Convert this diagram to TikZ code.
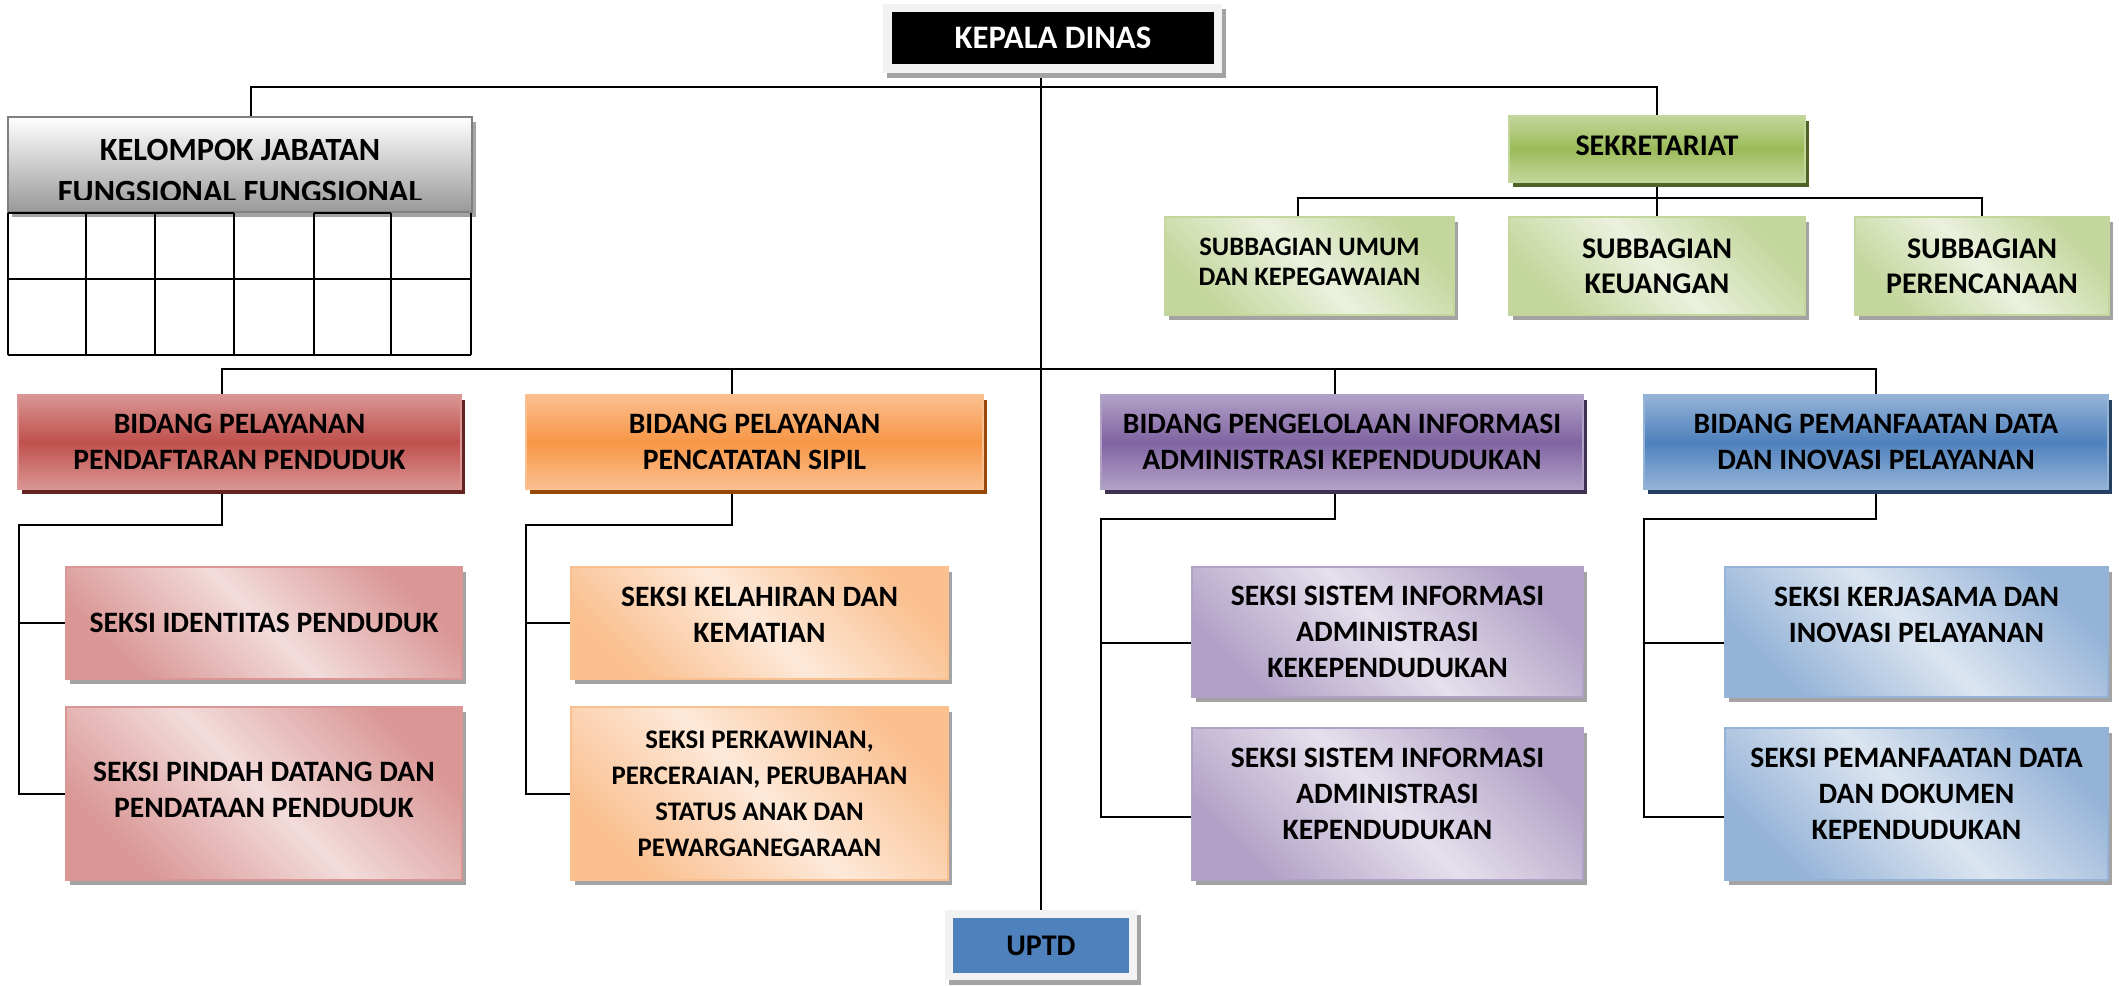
\documentclass[tikz,border=0pt]{standalone}
\usepackage{fontspec}
\setmainfont{Carlito}
\usetikzlibrary{shadows,backgrounds}
\definecolor{redmid}{HTML}{C0504D}\definecolor{redlt}{HTML}{D99694}\definecolor{redpale}{HTML}{F2DCDB}\definecolor{reddk}{HTML}{632423}
\definecolor{orgmid}{HTML}{F79646}\definecolor{orglt}{HTML}{FAC090}\definecolor{orgpale}{HTML}{FDE9D9}\definecolor{orgdk}{HTML}{974806}
\definecolor{purmid}{HTML}{8064A2}\definecolor{purlt}{HTML}{B2A1C7}\definecolor{purpale}{HTML}{E5E0EC}\definecolor{purdk}{HTML}{3F3151}
\definecolor{blumid}{HTML}{4F81BD}\definecolor{blult}{HTML}{95B3D7}\definecolor{blupale}{HTML}{DBE5F1}\definecolor{bludk}{HTML}{244061}
\definecolor{grnmid}{HTML}{9BBB59}\definecolor{grnlt}{HTML}{C3D69B}\definecolor{grnpale}{HTML}{EBF1DE}\definecolor{grndk}{HTML}{4F6228}
\definecolor{hatch}{HTML}{A3A3A3}
\definecolor{frame}{HTML}{F2F2F2}
\tikzset{
  x=0.5pt, y=-0.5pt,
  conn/.style={line width=1pt, draw=black},
  tbl/.style={line width=1pt, draw=black},
  wh/.style 2 args={minimum width=#1*0.5pt, minimum height=#2*0.5pt},
  lbl/.style={rectangle, inner sep=0pt, align=center, font=\bfseries\fontsize{14.8}{18}\selectfont},
  hshadow/.style={drop shadow={shadow xshift=2pt, shadow yshift=-2.5pt, fill=hatch, opacity=1}},
  bidangbox/.style={lbl, top color=#1lt, bottom color=#1lt, middle color=#1mid,
    draw=#1lt, line width=0.75pt,
    drop shadow={shadow xshift=1.75pt, shadow yshift=-2.5pt, fill=#1dk, opacity=1}},
  seksibox/.style={lbl, top color=#1lt, bottom color=#1lt, middle color=#1pale, shading angle=-45,
    draw=#1lt, line width=0.75pt, hshadow},
  framebox/.style={rectangle, inner sep=0pt, fill=frame, hshadow},
}
\begin{document}
\begin{tikzpicture}
\useasboundingbox (0,0) rectangle (2119,985);

% ---------- nodes ----------
\node[framebox, wh={339}{69}] (kepalaframe) at (1052.5,38.5) {};
\node[lbl, wh={322}{52}, fill=black, text=white, font=\bfseries\fontsize{16.4}{18}\selectfont] (kepala) at (1053,38) {KEPALA DINAS};

\node[rectangle, wh={464}{95}, top color=white, bottom color=black!40, draw=black!50, line width=0.75pt, hshadow] (kelompok) at (240,164.5) {};
\begin{scope}
  \clip (kelompok.north west) rectangle ([yshift=6.5pt]kelompok.south east);
  \node[lbl, font=\bfseries\fontsize{16.2}{21}\selectfont] (kelompoktext) at ([yshift=-3.25pt]kelompok.center) {KELOMPOK JABATAN\\FUNGSIONAL FUNGSIONAL};
\end{scope}
% table under Kelompok
\draw[tbl] (8,213) -- (234,213) (314,213) -- (391,213);
\draw[tbl] (8,279) -- (471,279) (8,355) -- (471,355);
\foreach \cx in {8,86,155,234,314,391,471} { \draw[tbl] (\cx,213) -- (\cx,355); }

\node[bidangbox=grn, wh={296}{66}, text depth=3pt, font=\bfseries\fontsize{15}{18}\selectfont] (sek) at (1657,149) {SEKRETARIAT};
\node[seksibox=grn, wh={289}{98}, text depth=4.5pt, font=\bfseries\fontsize{13.3}{15}\selectfont] (umum) at (1309.5,266) {SUBBAGIAN UMUM\\DAN KEPEGAWAIAN};
\node[seksibox=grn, wh={296}{98}, font=\bfseries\fontsize{15}{17.5}\selectfont] (keu) at (1657,266) {SUBBAGIAN\\KEUANGAN};
\node[seksibox=grn, wh={254}{98}, font=\bfseries\fontsize{15}{17.5}\selectfont] (peren) at (1982,266) {SUBBAGIAN\\PERENCANAAN};

\node[bidangbox=red, wh={443}{94}] (bred) at (239.5,442) {BIDANG PELAYANAN\\PENDAFTARAN PENDUDUK};
\node[bidangbox=org, wh={457}{94}] (borange) at (754.5,442) {BIDANG PELAYANAN\\PENCATATAN SIPIL};
\node[bidangbox=pur, wh={482}{94}] (bpurple) at (1342,442) {BIDANG PENGELOLAAN INFORMASI\\ADMINISTRASI KEPENDUDUKAN};
\node[bidangbox=blu, wh={464}{94}] (bblue) at (1876,442) {BIDANG PEMANFAATAN DATA\\DAN INOVASI PELAYANAN};

\node[seksibox=red, wh={396}{112}] (sr1) at (264,623) {SEKSI IDENTITAS PENDUDUK};
\node[seksibox=red, wh={396}{173}, text depth=4pt] (sr2) at (264,793.5) {SEKSI PINDAH DATANG DAN\\PENDATAAN PENDUDUK};
\node[seksibox=org, wh={377}{112}, text depth=8pt] (so1) at (759.5,623) {SEKSI KELAHIRAN DAN\\KEMATIAN};
\node[seksibox=org, wh={377}{173}, font=\bfseries\fontsize{13.4}{18}\selectfont] (so2) at (759.5,793.5) {SEKSI PERKAWINAN,\\PERCERAIAN, PERUBAHAN\\STATUS ANAK DAN\\PEWARGANEGARAAN};
\node[seksibox=pur, wh={391}{130}] (sp1) at (1387.5,632) {SEKSI SISTEM INFORMASI\\ADMINISTRASI\\KEKEPENDUDUKAN};
\node[seksibox=pur, wh={391}{152}, text depth=10pt] (sp2) at (1387.5,804) {SEKSI SISTEM INFORMASI\\ADMINISTRASI\\KEPENDUDUKAN};
\node[seksibox=blu, wh={383}{130}, text depth=17pt] (sb1) at (1916.5,632) {SEKSI KERJASAMA DAN\\INOVASI PELAYANAN};
\node[seksibox=blu, wh={383}{152}, text depth=10pt] (sb2) at (1916.5,804) {SEKSI PEMANFAATAN DATA\\DAN DOKUMEN\\KEPENDUDUKAN};

\node[framebox, wh={192}{70}] (uptdframe) at (1041,945) {};
\node[lbl, wh={176}{55}, fill=blumid, font=\bfseries\fontsize{15}{18}\selectfont] (uptd) at (1041,945.5) {UPTD};

% ---------- connectors ----------
\begin{scope}[on background layer]
\fill[white] (0,0) rectangle (2119,985);
\draw[conn] (kepalaframe.south -| uptdframe.north) -- (uptdframe.north);
\draw[conn] ([xshift=5.5pt]kelompok.north) -- ++(0,-29) -| (sek.north);
\draw[conn] (sek.south) -- (keu.north);
\draw[conn] ([xshift=-6pt]umum.north) -- ++(0,-18) -| (peren.north);
\draw[conn] ([xshift=-9pt]bred.north) -- ++(0,-25) -| (bblue.north);
\draw[conn] ([xshift=-11.25pt]borange.north) -- ++(0,-25);
\draw[conn] ([xshift=-3.5pt]bpurple.north) -- ++(0,-25);
% red
\draw[conn] ([xshift=-9pt]bred.south) -- ++(0,35) -- ++(-203,0) |- (sr2.west);
\draw[conn] (sr1.west) -- ++(-47,0);
% orange
\draw[conn] ([xshift=-11.25pt]borange.south) -- ++(0,35) -- ++(-206,0) |- (so2.west);
\draw[conn] (so1.west) -- ++(-45,0);
% purple
\draw[conn] ([xshift=-3.5pt]bpurple.south) -- ++(0,29) -- ++(-234,0) |- ([yshift=-6.5pt]sp2.west);
\draw[conn] ([yshift=-5.5pt]sp1.west) -- ++(-91,0);
% blue
\draw[conn] (bblue.south) -- ++(0,29) -- ++(-232,0) |- ([yshift=-6.5pt]sb2.west);
\draw[conn] ([yshift=-5.5pt]sb1.west) -- ++(-81,0);
\end{scope}
\end{tikzpicture}
\end{document}
